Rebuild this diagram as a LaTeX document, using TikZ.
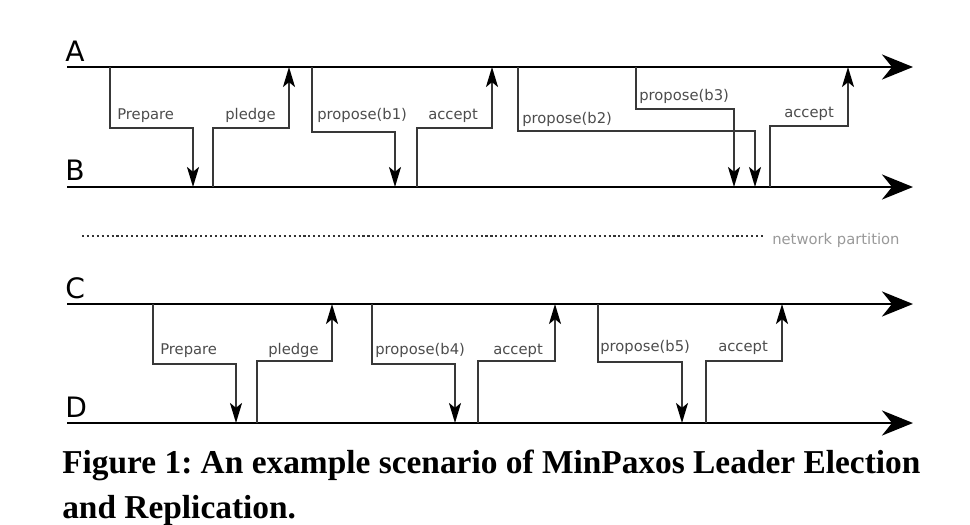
\documentclass[tikz,border=0pt]{standalone}
\usepackage{fontspec}
\setmainfont{Liberation Serif}
\newfontfamily\dejavu{DejaVu Sans}
\usetikzlibrary{arrows.meta}
\frenchspacing

\begin{document}
\begin{tikzpicture}[x=0.25mm,y=-0.25mm]
\tikzstyle{every node}=[inner sep=0pt, anchor=base west]
\tikzstyle{lane}=[line width=2.1pt, -{Stealth[length=7.75mm,width=6.25mm,inset=2.5mm]}]
\tikzstyle{msg}=[line width=1.4pt, black!78, -{Stealth[length=5mm,width=3mm,inset=1.2mm,black]}]
\tikzstyle{lbl}=[font=\dejavu\fontsize{10.5}{12}\selectfont, text=black!70]
\tikzstyle{proc}=[font=\dejavu\fontsize{20}{22}\selectfont]
\useasboundingbox (0,0) rectangle (970,525);

% time lines
\draw (65,61) node (nA) [proc] {A};
\draw (65,180) node (nB) [proc] {B};
\draw (65,298) node (nC) [proc] {C};
\draw (65,417) node (nD) [proc] {D};
\coordinate (a0) at (67,67); \coordinate (a9) at (913,67);
\coordinate (b0) at (67,187); \coordinate (b9) at (913,187);
\coordinate (c0) at (67,304); \coordinate (c9) at (913,304);
\coordinate (d0) at (67,423); \coordinate (d9) at (913,423);
\draw[lane] (a0) -- (a9);
\draw[lane] (b0) -- (b9);
\draw[lane] (c0) -- (c9);
\draw[lane] (d0) -- (d9);

% A <-> B
\coordinate (a1) at (110,67); \coordinate (b1) at (193,187);
\coordinate (b2) at (213,187); \coordinate (a2) at (289,67);
\coordinate (a3) at (312,67); \coordinate (b3) at (395,187);
\coordinate (b4) at (417,187); \coordinate (a4) at (492,67);
\coordinate (a5) at (518,67); \coordinate (b5) at (755,187);
\coordinate (a6) at (636,67); \coordinate (b6) at (734,187);
\coordinate (b7) at (770,187); \coordinate (a7) at (848,67);
\draw[msg] (a1) -- ++(0,61) -| (b1);
\draw[msg] (b2) -- ++(0,-59) -| (a2);
\draw[msg] (a3) -- ++(0,65) -| (b3);
\draw[msg] (b4) -- ++(0,-59) -| (a4);
\draw[msg] (a5) -- ++(0,64) -| (b5);
\draw[msg] (a6) -- ++(0,42) -| (b6);
\draw[msg] (b7) -- ++(0,-61) -| (a7);
\draw (117,119) node (m1) [lbl] {Prepare};
\draw (225,119) node (m2) [lbl] {pledge};
\draw (317,119) node (m3) [lbl] {propose(b1)};
\draw (428,119) node (m4) [lbl] {accept};
\draw (522,123) node (m5) [lbl] {propose(b2)};
\draw (639,100) node (m6) [lbl] {propose(b3)};
\draw (784,117) node (m7) [lbl] {accept};

% partition
\coordinate (p0) at (82,236); \coordinate (p1) at (763,236);
\draw[black!80, line width=1.5pt, dash pattern=on 1.5pt off 2pt] (p0) -- (p1);
\draw (772,244) node (np) [lbl, text=black!40] {network partition};

% C <-> D
\coordinate (c1) at (153,304); \coordinate (d1) at (236,423);
\coordinate (d2) at (257,423); \coordinate (c2) at (332,304);
\coordinate (c3) at (372,304); \coordinate (d3) at (455,423);
\coordinate (d4) at (478,423); \coordinate (c4) at (555,304);
\coordinate (c5) at (598,304); \coordinate (d5) at (682,423);
\coordinate (d6) at (706,423); \coordinate (c6) at (782,304);
\draw[msg] (c1) -- ++(0,60) -| (d1);
\draw[msg] (d2) -- ++(0,-62) -| (c2);
\draw[msg] (c3) -- ++(0,60) -| (d3);
\draw[msg] (d4) -- ++(0,-62) -| (c4);
\draw[msg] (c5) -- ++(0,58) -| (d5);
\draw[msg] (d6) -- ++(0,-62) -| (c6);
\draw (160,354) node (n1) [lbl] {Prepare};
\draw (268,354) node (n2) [lbl] {pledge};
\draw (375,354) node (n3) [lbl] {propose(b4)};
\draw (493,354) node (n4) [lbl] {accept};
\draw (600,351) node (n5) [lbl] {propose(b5)};
\draw (718,351) node (n6) [lbl] {accept};

% caption
\draw (62,473) node (cap) [font=\bfseries\fontsize{23.75}{30}\selectfont] {Figure 1: An example scenario of MinPaxos Leader Election};
\draw (62,518) node (cap2) [font=\bfseries\fontsize{23.75}{30}\selectfont] {and Replication.};
\end{tikzpicture}
\end{document}
